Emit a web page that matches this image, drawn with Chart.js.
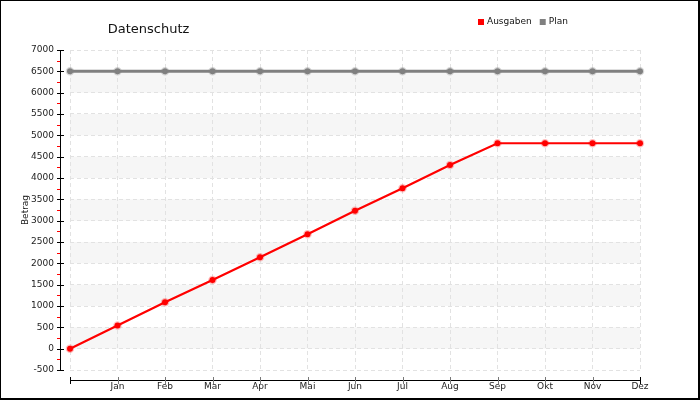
<!DOCTYPE html>
<html>
<head>
<meta charset="utf-8">
<script src="https://cdn.jsdelivr.net/npm/chart.js@4.4.0/dist/chart.umd.min.js"></script>
<style>
html,body{margin:0;padding:0;background:#fff;}
#wrap{width:700px;height:400px;position:relative;}
canvas{display:block;}
</style>
</head>
<body>
<div id="wrap"><canvas id="c" width="700" height="400"></canvas></div>
<script>
const chartTitle = 'Datenschutz';
const axisTitle = 'Betrag';
const categories = ['', 'Jan', 'Feb', 'Mar', 'Apr', 'Mai', 'Jun', 'Jul', 'Aug', 'Sep', 'Okt', 'Nov', 'Dez'];
const ausgaben = [0, 545, 1090, 1610, 2145, 2680, 3230, 3760, 4305, 4815, 4815, 4815, 4815];
const plan = [6500, 6500, 6500, 6500, 6500, 6500, 6500, 6500, 6500, 6500, 6500, 6500, 6500];
const seriesNames = ['Ausgaben', 'Plan'];
const seriesColors = ['#ff0000', '#808080'];
const yMin = -500, yMax = 7000, yStep = 500;

const FONT = "'DejaVu Sans', Verdana, sans-serif";

const decor = {
  id: 'decor',
  beforeDraw(chart) {
    const {ctx, chartArea: a, scales: {y}} = chart;
    ctx.save();
    ctx.fillStyle = '#fff';
    ctx.fillRect(0, 0, chart.width, chart.height);
    ctx.fillStyle = '#f6f6f6';
    const ticks = y.ticks;
    for (let i = 0; i < ticks.length - 1; i++) {
      const v = ticks[i].value;
      if (v >= 0 && (v / yStep) % 2 === 0) {
        const y0 = y.getPixelForValue(v);
        const y1 = y.getPixelForValue(ticks[i + 1].value);
        ctx.fillRect(a.left, y1, a.right - a.left, y0 - y1);
      }
    }
    ctx.restore();
  },
  afterDraw(chart) {
    const {ctx, chartArea: a, scales: {x, y}} = chart;
    ctx.save();
    // y axis
    const ax = 60.5;
    ctx.strokeStyle = '#000';
    ctx.lineWidth = 1;
    ctx.beginPath();
    ctx.moveTo(ax, a.top);
    ctx.lineTo(ax, a.bottom);
    ctx.stroke();
    y.ticks.forEach((t, i) => {
      const py = Math.round(y.getPixelForValue(t.value)) + 0.5;
      ctx.strokeStyle = '#000';
      ctx.beginPath();
      ctx.moveTo(57, py);
      ctx.lineTo(64, py);
      ctx.stroke();
      if (i < y.ticks.length - 1) {
        const mid = (t.value + y.ticks[i + 1].value) / 2;
        const my = Math.round(y.getPixelForValue(mid)) + 0.5;
        ctx.strokeStyle = '#ff0000';
        ctx.beginPath();
        ctx.moveTo(57, my);
        ctx.lineTo(60, my);
        ctx.stroke();
      }
    });
    // x axis
    const ay = 380.5;
    ctx.strokeStyle = '#000';
    ctx.beginPath();
    ctx.moveTo(a.left, ay);
    ctx.lineTo(a.right, ay);
    ctx.stroke();
    categories.forEach((c, i) => {
      const px = Math.round(x.getPixelForValue(i)) + 0.5;
      ctx.strokeStyle = (i === 0 || i === categories.length - 1) ? '#000' : '#777';
      ctx.beginPath();
      ctx.moveTo(px, 377);
      ctx.lineTo(px, 384);
      ctx.stroke();
    });
    // title
    ctx.fillStyle = '#111';
    ctx.font = '13px ' + FONT;
    ctx.textAlign = 'center';
    ctx.textBaseline = 'middle';
    ctx.fillText(chartTitle, 148.5, 30);
    // legend
    ctx.font = '9px ' + FONT;
    ctx.textAlign = 'left';
    let lx = 478;
    seriesNames.forEach((n, i) => {
      ctx.fillStyle = seriesColors[i];
      ctx.fillRect(lx, 19, 6, 6);
      ctx.fillStyle = '#111';
      ctx.fillText(n, lx + 9, 22);
      lx += 9 + ctx.measureText(n).width + 8;
    });
    // border
    ctx.fillStyle = '#000';
    ctx.fillRect(0, 0, chart.width, 1);
    ctx.fillRect(0, 0, 1, chart.height);
    ctx.fillRect(chart.width - 2, 0, 2, chart.height);
    ctx.fillRect(0, chart.height - 2, chart.width, 2);
    ctx.restore();
  }
};

new Chart(document.getElementById('c'), {
  type: 'line',
  data: {
    labels: categories,
    datasets: [
      {
        label: seriesNames[0],
        data: ausgaben,
        borderColor: seriesColors[0],
        backgroundColor: seriesColors[0],
        borderWidth: 2.2,
        pointRadius: 3,
        pointBorderWidth: 2.5,
        pointBackgroundColor: seriesColors[0],
        pointBorderColor: 'rgba(255,0,0,0.25)',
        tension: 0,
        order: 1
      },
      {
        label: seriesNames[1],
        data: plan,
        borderColor: seriesColors[1],
        backgroundColor: seriesColors[1],
        borderWidth: 3,
        pointRadius: 3,
        pointBorderWidth: 2.5,
        pointBackgroundColor: seriesColors[1],
        pointBorderColor: 'rgba(128,128,128,0.3)',
        tension: 0,
        order: 2
      }
    ]
  },
  options: {
    responsive: false,
    animation: false,
    devicePixelRatio: 1,
    layout: {padding: {left: 0, right: 60, top: 50, bottom: 0}},
    plugins: {
      legend: {display: false},
      title: {display: false},
      tooltip: {enabled: false}
    },
    scales: {
      x: {
        type: 'category',
        offset: false,
        afterFit(s) { s.height = 30; },
        grid: {color: '#e2e2e2', lineWidth: 1, drawTicks: false},
        border: {display: false, dash: [4, 3]},
        ticks: {
          autoSkip: false, maxRotation: 0, padding: 11,
          color: '#222', font: {family: FONT, size: 9}
        }
      },
      y: {
        min: yMin, max: yMax,
        afterFit(s) { s.width = 70; },
        grid: {color: '#e2e2e2', lineWidth: 1, drawTicks: false},
        border: {display: false, dash: [4, 3]},
        ticks: {
          stepSize: yStep, autoSkip: false, padding: 16,
          color: '#222', font: {family: FONT, size: 9},
          callback: (v) => String(v)
        },
        title: {
          display: true, text: axisTitle, color: '#222',
          font: {family: FONT, size: 9},
          padding: {top: 20, bottom: 0}
        }
      }
    }
  },
  plugins: [decor]
});
</script>
</body>
</html>
